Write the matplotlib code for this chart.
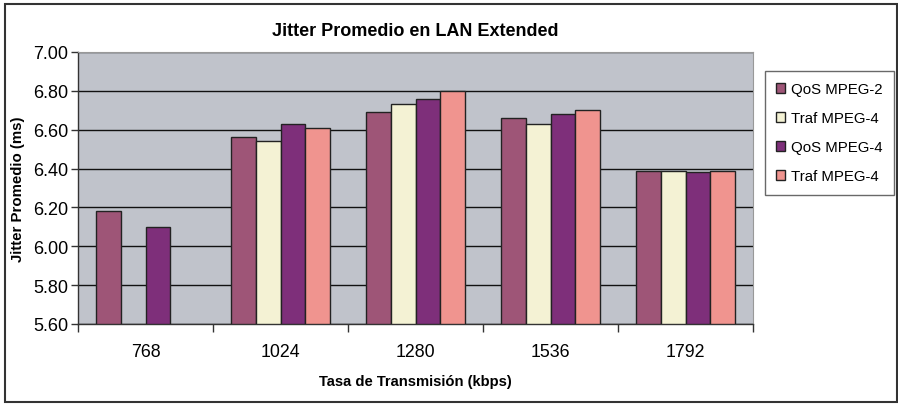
import numpy as np
import matplotlib
matplotlib.use("Agg")
import matplotlib.pyplot as plt
from matplotlib.patches import Rectangle

categories = ["768", "1024", "1280", "1536", "1792"]
series_names = ["QoS MPEG-2", "Traf MPEG-4", "QoS MPEG-4", "Traf MPEG-4"]
qos_mpeg2 = [6.18, 6.56, 6.69, 6.66, 6.39]
traf_mpeg4_a = [np.nan, 6.54, 6.73, 6.63, 6.39]
qos_mpeg4 = [6.10, 6.63, 6.76, 6.68, 6.38]
traf_mpeg4_b = [np.nan, 6.61, 6.80, 6.70, 6.39]
colors = ["#9E5577", "#F4F2D4", "#7E2F7A", "#F0948F"]
yticks = [5.60, 5.80, 6.00, 6.20, 6.40, 6.60, 6.80, 7.00]

plt.rcParams['font.family'] = ['Liberation Sans', 'DejaVu Sans']

W, H = 898, 406
fig = plt.figure(figsize=(W / 100, H / 100), dpi=100)
ax = fig.add_axes([78 / W, 1 - 325 / H, (753 - 78) / W, (325 - 53) / H])
ax.set_facecolor("#C0C3CB")

data = [qos_mpeg2, traf_mpeg4_a, qos_mpeg4, traf_mpeg4_b]
n = len(data)
bw = 1.0 / (n + 1.5)
x = np.arange(len(categories))
base = 5.60
handles = []
for i, (vals, col, name) in enumerate(zip(data, colors, series_names)):
    offs = (i - (n - 1) / 2) * bw
    v = np.array(vals, dtype=float)
    h = ax.bar(x + offs, v - base, bw, bottom=base, color=col, edgecolor="#222222",
               linewidth=1.0, label=name, zorder=3)
    handles.append(h)

ax.set_xlim(-0.5, len(categories) - 0.5)
ax.set_ylim(5.60, 7.00)
ax.set_yticks(yticks)
ax.set_yticklabels([f"{t:.2f}" for t in yticks], fontsize=13)
ax.set_xticks(x)
ax.set_xticklabels(categories, fontsize=12.8)
ax.set_xticks(np.arange(-0.5, len(categories), 1.0), minor=True)
ax.tick_params(axis="x", which="major", length=0, pad=14)
ax.tick_params(axis="x", which="minor", length=6, width=1, color="#333333")
ax.tick_params(axis="y", length=5, width=1, color="#333333", pad=2)
ax.yaxis.grid(True, color="#111111", linewidth=1.0, zorder=0)
ax.set_axisbelow(True)
for s in ["top", "right"]:
    ax.spines[s].set_color("#999999")
for s in ["left", "bottom"]:
    ax.spines[s].set_color("#333333")
    ax.spines[s].set_linewidth(1.0)

ax.set_xlabel("Tasa de Transmisión (kbps)", fontsize=10.6, fontweight="bold", labelpad=10)
ax.set_ylabel("Jitter Promedio (ms)", fontsize=10.8, fontweight="bold", labelpad=6)
fig.text((78 + 753) / 2 / W, 1 - 32 / H, "Jitter Promedio en LAN Extended",
         ha="center", va="center", fontsize=13, fontweight="bold")

leg = fig.legend(handles=handles, labels=series_names, loc="upper left",
                 bbox_to_anchor=(765 / W, 1 - 72 / H), fontsize=10.8,
                 frameon=True, fancybox=False, edgecolor="#444444",
                 handlelength=0.6, handleheight=0.6, handletextpad=0.4,
                 labelspacing=1.0, borderpad=0.75, borderaxespad=0)
leg.get_frame().set_linewidth(1.0)

fig.patches.append(Rectangle((5 / W, 3 / H), (892 / W), (398 / H), transform=fig.transFigure,
                             fill=False, edgecolor="#333333", linewidth=1.5))

fig.savefig("out.png", dpi=100)
